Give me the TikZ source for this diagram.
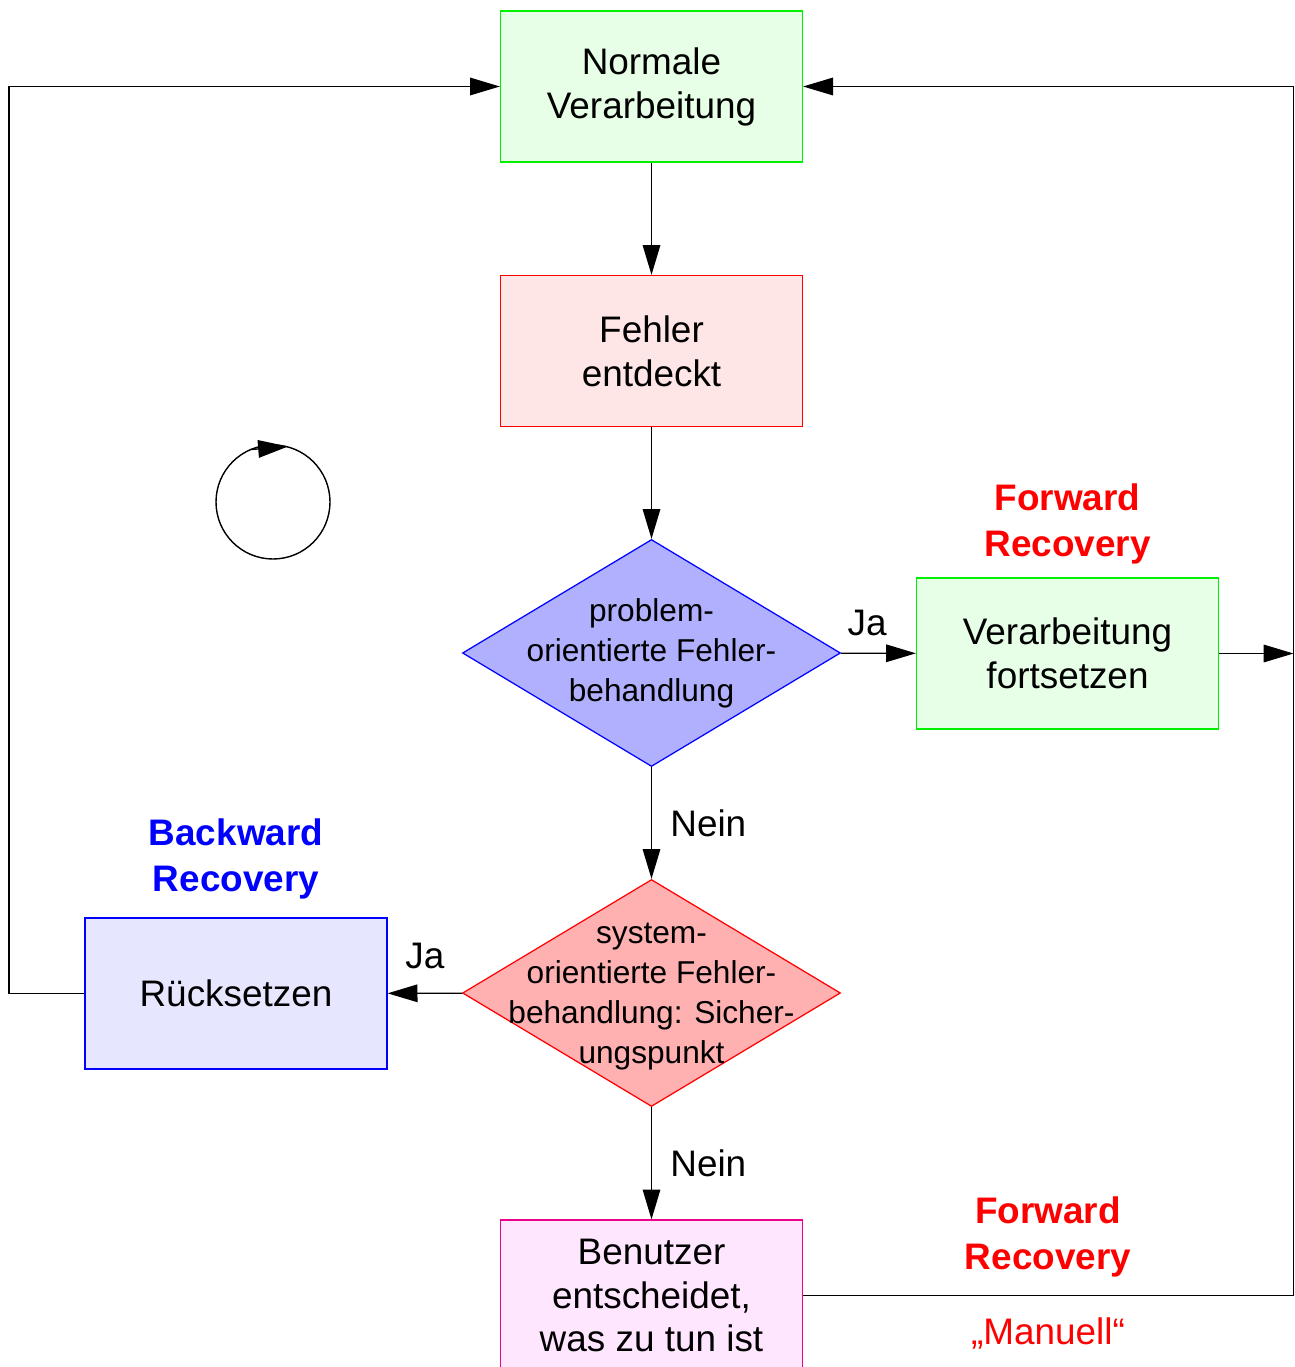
\documentclass[tikz,border=0pt]{standalone}
\usepackage{fontspec}
\setmainfont{Liberation Sans}
\usetikzlibrary{arrows.meta, shapes.geometric}

\definecolor{boxgreen}{RGB}{230,255,230}
\definecolor{boxpink}{RGB}{255,230,230}
\definecolor{boxlila}{RGB}{230,230,255}
\definecolor{boxmag}{RGB}{255,230,255}
\definecolor{dblue}{RGB}{176,176,255}
\definecolor{dred}{RGB}{255,176,176}
\definecolor{lgreen}{RGB}{0,240,0}

\tikzset{
  stepbox/.style={draw, line width=0.7pt, minimum width=6.04cm, minimum height=3.02cm,
    align=center, font=\fontsize{21}{25}\selectfont},
  choice/.style={diamond, draw, line width=0.7pt, minimum width=7.56cm, minimum height=4.54cm,
    inner sep=0pt, aspect=1.665},
  choicetext/.style={align=center, font=\fontsize{18}{22.8}\selectfont},
  flow/.style={line width=0.8pt, -{Triangle[length=17pt,width=10pt]}},
  tag/.style={font=\fontsize{21}{25}\selectfont},
  headline/.style={align=center, font=\fontsize{21}{26}\selectfont\bfseries}
}

\begin{document}
\begin{tikzpicture}
    \useasboundingbox (0,0) rectangle (25.9,-27.34);
    \clip (0,0) rectangle (25.9,-27.34);

    \node[stepbox, draw=lgreen, fill=boxgreen] (norm) at (13.03,-1.73) {Normale\\Verarbeitung};
    \node[stepbox, draw=red, fill=boxpink] (fehl) at (13.03,-7.02) {Fehler\\entdeckt};
    \node[choice, draw=blue, fill=dblue] (prob) at (13.03,-13.06) {};
    \node[choicetext] (probtext) at (prob) {problem-\\orientierte Fehler-\\behandlung};
    \node[stepbox, draw=lgreen, fill=boxgreen] (verb) at (21.35,-13.07) {Verarbeitung\\fortsetzen};
    \node[choice, draw=red, fill=dred] (sys) at (13.03,-19.86) {};
    \node[choicetext] (systext) at ([yshift=-2pt]sys) {system-\\orientierte Fehler-\\behandlung: Sicher-\\ungspunkt};
    \node[stepbox, draw=blue, fill=boxlila] (rueck) at (4.72,-19.87) {Rücksetzen};
    \node[stepbox, draw=magenta, fill=boxmag] (benu) at (13.03,-25.91) {Benutzer\\entscheidet,\\was zu tun ist};

    \node[headline, text=red] (fwd1) at (21.35,-10.48) {Forward\\Recovery};
    \node[headline, text=blue] (bwd) at (4.72,-17.18) {Backward\\Recovery};
    \node[headline, text=red] (fwd2) at (20.96,-24.74) {Forward\\Recovery};
    \node[tag, text=red] (man) at (20.96,-26.66) {„Manuell“};

    \coordinate (lx) at (0.18,0);
    \coordinate (rx) at (25.87,0);

    \draw[flow] (norm) -- (fehl);
    \draw[flow] (fehl) -- (prob);
    \draw[flow] (prob) -- node[tag, above, pos=0.35, yshift=6pt] {Ja} (verb);
    \draw[flow] (prob) -- node[tag, right, xshift=7pt] {Nein} (sys);
    \draw[flow] (sys) -- node[tag, above, yshift=10pt] {Ja} (rueck);
    \draw[flow] (sys) -- node[tag, right, xshift=7pt] {Nein} (benu);
    \draw[flow] (verb.east) -- (rx |- verb.east);
    \draw[flow] (rueck.west) -- (lx |- rueck.west) |- (norm.west);
    \draw[flow] (benu.east) -- (rx |- benu.east) |- (norm.east);

    \draw[line width=0.8pt] (5.46,-10.04) circle (1.14);
    \draw[flow] (5.02,-8.99) -- (5.76,-8.93);
\end{tikzpicture}
\end{document}
